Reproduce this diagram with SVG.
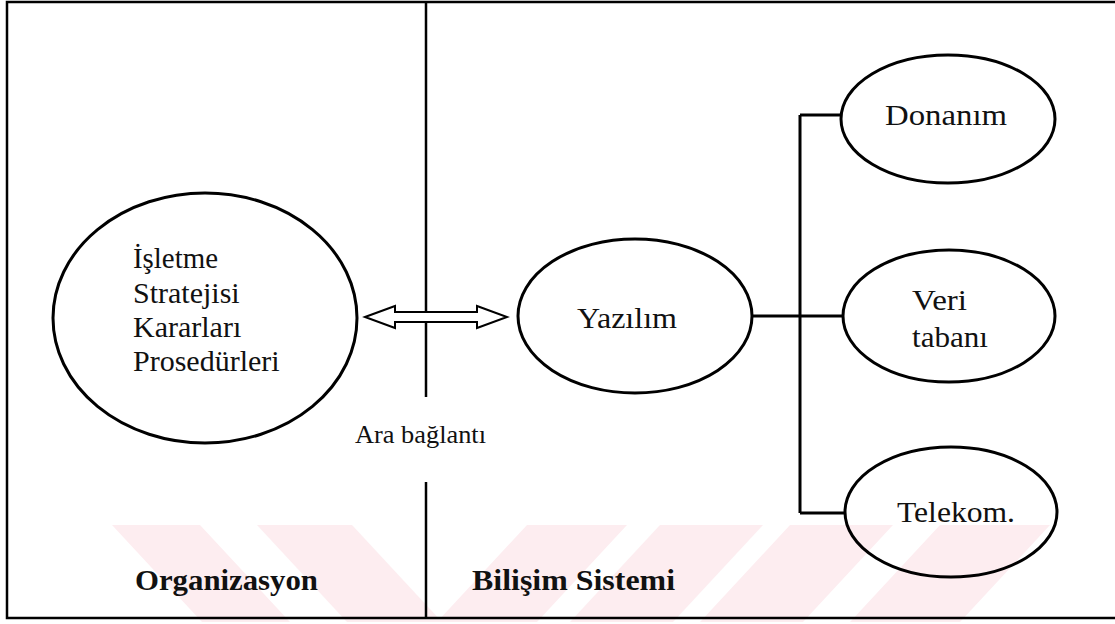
<svg xmlns="http://www.w3.org/2000/svg" width="1115" height="624" viewBox="0 0 1115 624">
  <style>
    .frame { fill: none; stroke: #000; stroke-width: 2.5; }
    .node { fill: none; stroke: #000; stroke-width: 3; }
    .link { fill: none; stroke: #000; stroke-width: 3; }
    .label { font-family: "Liberation Serif", "Times New Roman", serif; font-size: 30px; fill: #111; }
    .small { font-size: 26px; }
    .bold { font-weight: bold; font-size: 30px; }
    .wm { fill: #fdedf0; }
  </style>
  <rect width="1115" height="624" fill="#fff"/>

  <!-- faint background chevrons along the bottom edge -->
  <g id="watermark">
    <polygon class="wm" points="112,525 200,525 290,622 202,622"/>
    <polygon class="wm" points="257,525 352,525 442,622 347,622"/>
    <polygon class="wm" points="527,525 627,525 537,622 437,622"/>
    <polygon class="wm" points="660,525 763,525 673,622 570,622"/>
    <polygon class="wm" points="790,525 893,525 803,622 700,622"/>
    <polygon class="wm" points="940,525 1050,525 960,622 850,622"/>
  </g>

  <!-- outer frame and the split between the two areas -->
  <g id="frame">
    <polyline class="frame" points="1115,2 7,2 7,618 1115,618"/>
    <line class="frame" x1="426" y1="2" x2="426" y2="397"/>
    <line class="frame" x1="426" y1="482" x2="426" y2="618"/>
  </g>

  <g id="connectors">
    <line class="link" x1="800" y1="115" x2="800" y2="513"/>
    <line class="link" x1="800" y1="115" x2="842" y2="115"/>
    <line class="link" x1="753" y1="316" x2="843" y2="316"/>
    <line class="link" x1="800" y1="513" x2="845" y2="513"/>
    <!-- two-way hollow arrow between the areas -->
    <polygon fill="#fff" stroke="#000" stroke-width="2" stroke-linejoin="miter"
             points="365,317 395,306 395,312 477,312 477,306 507,317 477,328 477,322 395,322 395,328"/>
  </g>

  <g id="organizasyon-node">
    <ellipse class="node" cx="205" cy="318" rx="152" ry="125"/>
    <text class="label" x="133" y="268" textLength="85" lengthAdjust="spacingAndGlyphs">İşletme</text>
    <text class="label" x="133" y="303">Stratejisi</text>
    <text class="label" x="133" y="337">Kararları</text>
    <text class="label" x="133" y="371">Prosedürleri</text>
  </g>

  <g id="yazilim-node">
    <ellipse class="node" cx="635" cy="316" rx="117" ry="77"/>
    <text class="label" x="577" y="328" textLength="100" lengthAdjust="spacingAndGlyphs">Yazılım</text>
  </g>

  <g id="donanim-node">
    <ellipse class="node" cx="948" cy="119" rx="107" ry="64"/>
    <text class="label" x="885" y="125" textLength="122" lengthAdjust="spacingAndGlyphs">Donanım</text>
  </g>

  <g id="veritabani-node">
    <ellipse class="node" cx="949" cy="316" rx="106" ry="66"/>
    <text class="label" x="912" y="310" textLength="55" lengthAdjust="spacingAndGlyphs">Veri</text>
    <text class="label" x="912" y="347" textLength="76" lengthAdjust="spacingAndGlyphs">tabanı</text>
  </g>

  <g id="telekom-node">
    <ellipse class="node" cx="951" cy="512" rx="106" ry="65"/>
    <text class="label" x="897" y="522" textLength="118" lengthAdjust="spacingAndGlyphs">Telekom.</text>
  </g>

  <g id="captions">
    <text class="label small" x="355" y="443" textLength="131" lengthAdjust="spacingAndGlyphs">Ara bağlantı</text>
    <text class="label bold" x="135" y="590" textLength="183" lengthAdjust="spacingAndGlyphs">Organizasyon</text>
    <text class="label bold" x="472" y="590" textLength="203" lengthAdjust="spacingAndGlyphs">Bilişim Sistemi</text>
  </g>
</svg>
